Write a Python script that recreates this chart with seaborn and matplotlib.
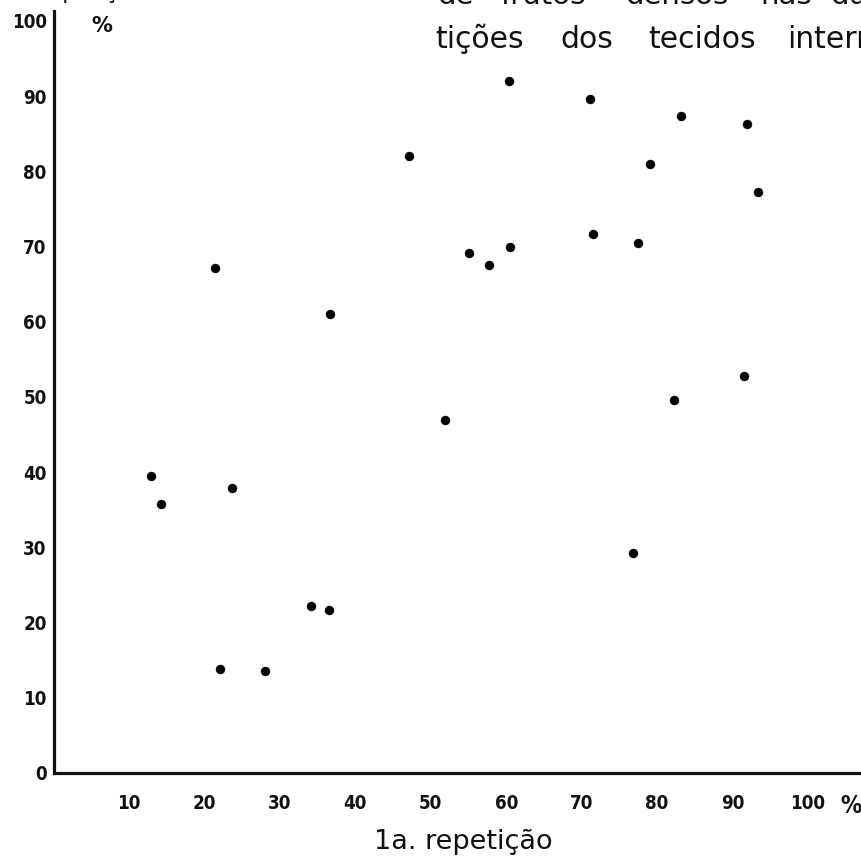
import matplotlib
matplotlib.use("Agg")
import matplotlib.pyplot as plt
import pandas as pd
import seaborn as sns

# values (% in 1st and 2nd repetition)
rep1 = [12.9, 14.3, 23.7, 22.1, 28.0, 47.1, 55.0, 57.7, 21.4, 36.6,
        51.9, 60.3, 71.1, 83.1, 91.9, 79.0, 93.4, 71.5, 60.5, 77.4,
        91.5, 82.2, 76.8, 34.1, 36.5]
rep2 = [39.5, 35.8, 37.9, 13.8, 13.5, 82.1, 69.1, 67.5, 67.2, 61.1,
        46.9, 92.0, 89.6, 87.4, 86.3, 81.0, 77.3, 71.7, 70.0, 70.5,
        52.8, 49.6, 29.3, 22.2, 21.7]
x_ticks = [10, 20, 30, 40, 50, 60, 70, 80, 90, 100]
y_ticks = [0, 10, 20, 30, 40, 50, 60, 70, 80, 90, 100]
title_words_1 = ["de", "frutos", "densos", "nas", "duas"]
title_words_2 = ["tições", "dos", "tecidos", "intern"]

df = pd.DataFrame({"rep1": rep1, "rep2": rep2})

sns.set_style("white")
plt.rcParams["font.family"] = ["DejaVu Sans", "Liberation Sans"]

W, H = 861, 864
fig = plt.figure(figsize=(W / 100, H / 100), dpi=100)
ax = fig.add_axes([53.6 / W, 1 - 773 / H, (W - 53.6) / W, (773 - 11) / H])

sns.scatterplot(data=df, x="rep1", y="rep2", ax=ax, color="black",
                s=42, edgecolor="black", linewidth=0.3, zorder=3)

ax.set_xlim(0, (W - 53.6) / 7.544)
ax.set_ylim(0, (773 - 11) / 7.52)
ax.set_xlabel("")
ax.set_ylabel("")

for side in ["top", "right"]:
    ax.spines[side].set_visible(False)
for side in ["left", "bottom"]:
    ax.spines[side].set_linewidth(2.3)
    ax.spines[side].set_color("#111111")

tick_font = dict(fontsize=13.5, fontweight="bold", fontstretch="condensed")
ax.set_xticks(x_ticks)
ax.set_xticklabels([str(v) for v in x_ticks], **tick_font)
ax.set_yticks(y_ticks)
ax.set_yticklabels([str(v) for v in y_ticks], **tick_font)
ax.tick_params(axis="x", direction="out", length=3, width=1.2, pad=12, colors="#111111")
ax.tick_params(axis="y", direction="out", length=3, width=1.2, pad=2, colors="#111111")
ax.grid(False)

# units
ax.text(6.4, 99.3, "%", fontsize=15, fontweight="bold", ha="center", va="center",
        color="#111111")
fig.text(851 / W, 1 - 806 / H, "%", fontsize=17, fontweight="bold",
         ha="center", va="center", color="#111111", fontstretch="condensed")

fig.text(463 / W, 1 - 842 / H, "1a. repetição", fontsize=19.5, ha="center",
         va="center", color="#111111")

# heading of the page, cut off at the top in the scan
x1 = [437, 500, 625, 760, 830]
for word, xp in zip(title_words_1, x1):
    fig.text(xp / W, 1 - 4 / H, word, fontsize=21, ha="left", va="baseline",
             color="#111111")
x2 = [435, 560, 648, 787]
for word, xp in zip(title_words_2, x2):
    fig.text(xp / W, 1 - 48 / H, word, fontsize=21.5, ha="left", va="baseline",
             color="#111111")
fig.text(-2 / W, 1 + 1 / H, "2a. repetição", fontsize=16, ha="left",
         va="baseline", color="#111111")

fig.savefig("out.png", dpi=100, facecolor="white")
